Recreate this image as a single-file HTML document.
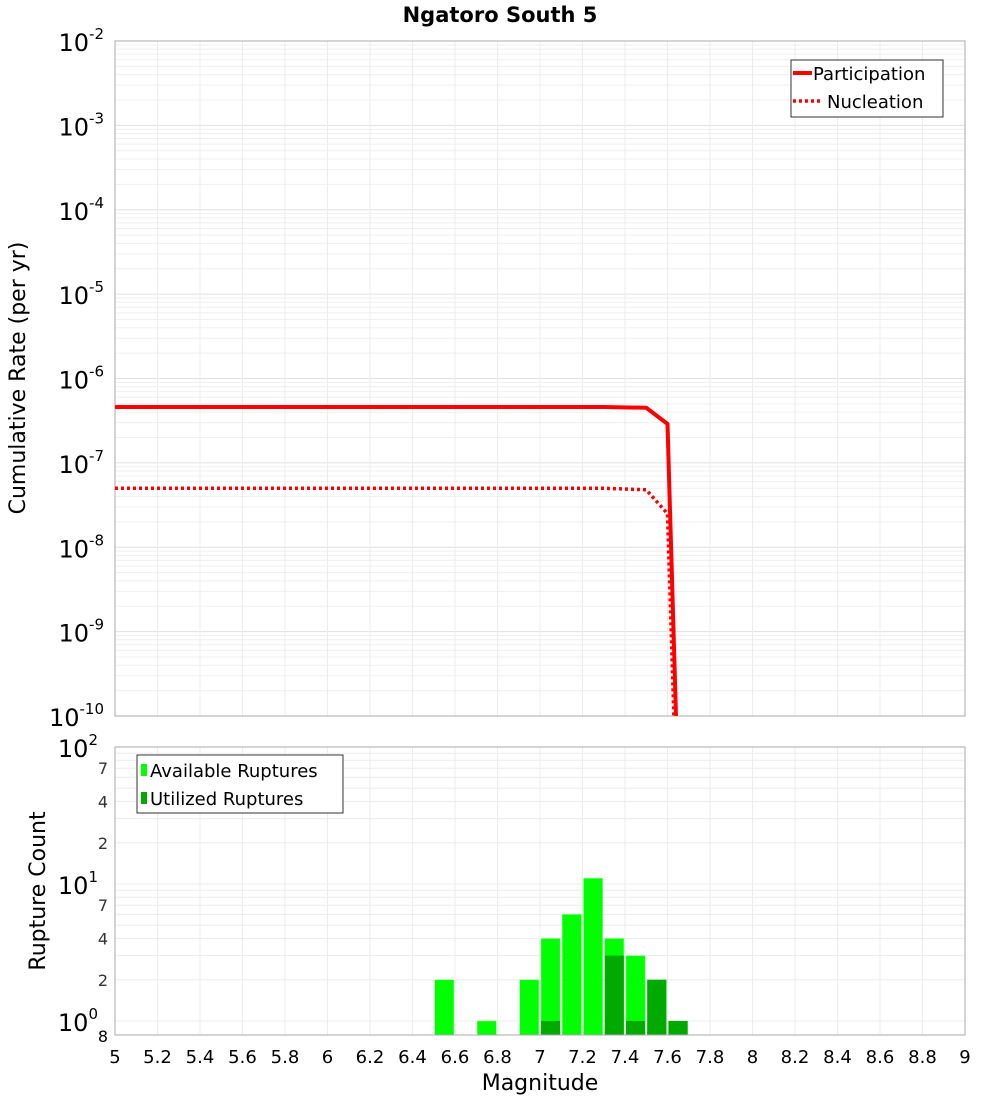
<!DOCTYPE html>
<html><head><meta charset="utf-8"><style>
body{margin:0;background:#fff;font-family:"Liberation Sans","DejaVu Sans",sans-serif}
svg text{font-family:"DejaVu Sans","Liberation Sans",sans-serif}
</style></head><body>
<svg id="c" width="1000" height="1100" xmlns="http://www.w3.org/2000/svg">
<rect width="1000" height="1100" fill="#fff"/>
<text x="500" y="22" text-anchor="middle" font-size="21" font-weight="bold">Ngatoro South 5</text>
<g id="topPlot"></g><g id="botPlot"></g>
</svg>
<script>
const xTicks=[5,5.2,5.4,5.6,5.8,6,6.2,6.4,6.6,6.8,7,7.2,7.4,7.6,7.8,8,8.2,8.4,8.6,8.8,9];
const partMag=[5,5.5,6,6.5,7,7.3,7.5,7.6,7.64];
const partRate=[4.6e-7,4.6e-7,4.6e-7,4.6e-7,4.6e-7,4.6e-7,4.5e-7,2.9e-7,1e-10];
const nuclMag=[5,5.5,6,6.5,7,7.3,7.5,7.6,7.63];
const nuclRate=[5e-8,5e-8,5e-8,5e-8,5e-8,5e-8,4.8e-8,2.5e-8,1e-10];
const binMag=[6.5,6.7,6.9,7.0,7.1,7.2,7.3,7.4,7.5,7.6];
const availCount=[2,1,2,4,6,11,4,3,2,1];
const usedMag=[7.0,7.3,7.4,7.5,7.6];
const usedCount=[1,3,1,2,1];
const topDecades=[-10,-9,-8,-7,-6,-5,-4,-3,-2];
const botMinor=[2,4,7];

const NS="http://www.w3.org/2000/svg";
const X0=115,X1=965;
const x=m=>X0+(m-5)/4*(X1-X0);
const T0=41,T1=716;
const yT=v=>T0+(-2-Math.log10(v))/8*(T1-T0);
const B0=747,D=137;
const yB=v=>B0+(2-Math.log10(v))*D;
const B1=1035;
function el(p,t,a){const e=document.createElementNS(NS,t);for(const k in a)e.setAttribute(k,a[k]);p.appendChild(e);return e;}
const topG=document.getElementById('topPlot'),botG=document.getElementById('botPlot');
for(let d=-10;d<-2;d++)for(let k=1;k<10;k++){const yy=yT(k*Math.pow(10,d));const g=el(topG,'line',{x1:X0,x2:X1,y1:yy,y2:yy,stroke:k==1?'#e0e0e0':'#efefef','stroke-width':1});

}
xTicks.forEach(t=>{const g=el(topG,'line',{x1:x(t),x2:x(t),y1:T0,y2:T1,stroke:'#ececec'});


const g2=el(botG,'line',{x1:x(t),x2:x(t),y1:B0,y2:B1,stroke:'#ececec'});


const lb=el(botG,'text',{x:x(t),y:1063,'text-anchor':'middle','font-size':18});lb.textContent=String(t);

});
topDecades.forEach(d=>{const t=el(topG,'text',{x:104,y:yT(Math.pow(10,d))+10,'text-anchor':'end','font-size':24});


t.innerHTML='10<tspan dy="-12" font-size="15">'+d+'</tspan>';});
el(topG,'rect',{x:X0,y:T0,width:X1-X0,height:T1-T0,fill:'none',stroke:'#aaa'});
const pp=partMag.map((m,i)=>x(m)+','+Math.min(yT(partRate[i]),T1)).join(' ');
const pl=el(topG,'polyline',{points:pp,fill:'none',stroke:'#f00','stroke-width':4});


const np=nuclMag.map((m,i)=>x(m)+','+Math.min(yT(nuclRate[i]),T1)).join(' ');
const nl=el(topG,'polyline',{points:np,fill:'none',stroke:'#f00','stroke-width':3.5,'stroke-dasharray':'3,3'});


const lg=el(topG,'g',{});


el(lg,'rect',{x:791,y:60,width:152,height:57,fill:'#fff',stroke:'#333'});
el(lg,'line',{x1:793,x2:812,y1:73,y2:73,stroke:'#f00','stroke-width':4});
el(lg,'line',{x1:793,x2:822,y1:101,y2:101,stroke:'#f00','stroke-width':3.5,'stroke-dasharray':'3,3'});
let t1=el(lg,'text',{x:813,y:80,'font-size':18});t1.textContent='Participation';
let t2=el(lg,'text',{x:827,y:108,'font-size':18});t2.textContent='Nucleation';
const yl=el(topG,'text',{x:0,y:0,'font-size':22,'text-anchor':'middle',transform:'translate(25,378) rotate(-90)'});yl.textContent='Cumulative Rate (per yr)';


for(let d=0;d<2;d++)for(let k=1;k<10;k++){const yy=yB(k*Math.pow(10,d));if(yy>B1)continue;const g=el(botG,'line',{x1:X0,x2:X1,y1:yy,y2:yy,stroke:'#ececec'});

}
for(let d=0;d<2;d++)botMinor.forEach(k=>{const t=el(botG,'text',{x:108,y:yB(k*Math.pow(10,d))+6,'text-anchor':'end','font-size':16,fill:'#333'});t.textContent=k;

});
[0,1,2].forEach(d=>{const t=el(botG,'text',{x:98,y:yB(Math.pow(10,d))+10,'text-anchor':'end','font-size':24});
t.innerHTML='10<tspan dy="-12" font-size="15">'+d+'</tspan>';

});
const e8=el(botG,'text',{x:108,y:1042,'text-anchor':'end','font-size':16});e8.textContent='8';
const bw=(x(5.1)-x(5))*0.9;
binMag.forEach((m,i)=>{const r=el(botG,'rect',{x:x(m)+1,y:yB(availCount[i]),width:bw,height:B1-yB(availCount[i]),fill:'#00ff00',stroke:'#80ff80','stroke-width':0.5});

});
usedMag.forEach((m,i)=>{const r=el(botG,'rect',{x:x(m)+1,y:yB(usedCount[i]),width:bw,height:B1-yB(usedCount[i]),fill:'#00aa00'});

});
el(botG,'rect',{x:X0,y:B0,width:X1-X0,height:B1-B0,fill:'none',stroke:'#aaa'});
const bl=el(botG,'g',{});


el(bl,'rect',{x:137,y:755,width:206,height:58,fill:'#fff',stroke:'#333'});
el(bl,'rect',{x:141,y:764,width:6,height:12,fill:'#00ff00'});
el(bl,'rect',{x:141,y:792,width:6,height:12,fill:'#00aa00'});
let b1=el(bl,'text',{x:150,y:777,'font-size':18});b1.textContent='Available Ruptures';
let b2=el(bl,'text',{x:150,y:805,'font-size':18});b2.textContent='Utilized Ruptures';
const yl2=el(botG,'text',{x:0,y:0,'font-size':22,'text-anchor':'middle',transform:'translate(45,891) rotate(-90)'});yl2.textContent='Rupture Count';


const xl=el(botG,'text',{x:540,y:1090,'font-size':22,'text-anchor':'middle'});xl.textContent='Magnitude';


</script>
</body></html>
